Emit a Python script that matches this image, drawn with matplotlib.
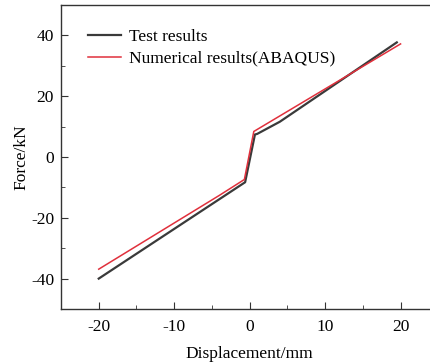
import matplotlib.pyplot as plt
from matplotlib.ticker import MultipleLocator

plt.rcParams['font.family'] = ['Liberation Serif', 'DejaVu Serif']
plt.rcParams['axes.unicode_minus'] = False

# Force-displacement curves
test_disp = [-20.0, -0.6, 0.7, 1.0, 4.0, 19.5]
test_force = [-40.0, -8.3, 7.4, 7.6, 11.6, 37.7]

num_disp = [-20.0, -4.0, -0.7, 0.55, 20.0]
num_force = [-36.9, -12.6, -7.4, 8.4, 37.2]

fig = plt.figure(figsize=(4.3, 3.64), dpi=100)
ax = fig.add_axes([61 / 430, 1 - 309 / 364, (438.3 - 61) / 430, (309 - 5) / 364])

ax.plot(test_disp, test_force, color='#3a3a3a', linewidth=1.6, label='Test results')
ax.plot(num_disp, num_force, color='#e0303c', linewidth=1.1, label='Numerical results(ABAQUS)')

ax.set_xlim(-25, 25)
ax.set_ylim(-50, 50)
ax.xaxis.set_major_locator(MultipleLocator(10))
ax.xaxis.set_minor_locator(MultipleLocator(5))
ax.yaxis.set_major_locator(MultipleLocator(20))
ax.yaxis.set_minor_locator(MultipleLocator(10))
ax.tick_params(which='both', direction='in', labelsize=12.5, color='#333333')
ax.tick_params(which='major', length=5)
ax.tick_params(which='minor', length=3)
ax.tick_params(axis='x', pad=7)
ax.tick_params(axis='y', pad=5)
for s in ax.spines.values():
    s.set_linewidth(1.0)
    s.set_color('#333333')

ax.set_xlabel('Displacement/mm', fontsize=12.5, labelpad=8)
ax.set_ylabel('Force/kN', fontsize=12.5, labelpad=1)

ax.legend(loc='upper left', bbox_to_anchor=(0.031, 0.972), frameon=False,
          fontsize=12.5, handlelength=1.9, handletextpad=0.45, labelspacing=0.3)

fig.savefig('out.png', dpi=100)
